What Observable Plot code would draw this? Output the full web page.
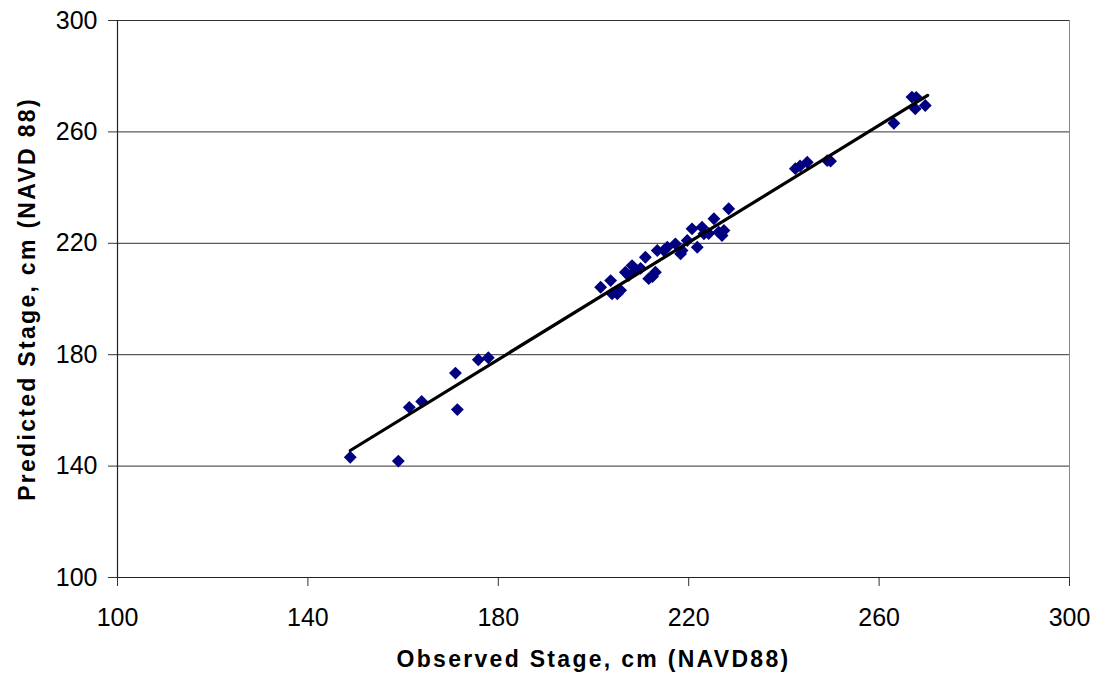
<!DOCTYPE html>
<html>
<head>
<meta charset="utf-8">
<script src="https://cdn.jsdelivr.net/npm/d3@7"></script>
<script src="https://cdn.jsdelivr.net/npm/@observablehq/plot@0.6"></script>
<style>
  html, body { margin: 0; padding: 0; background: #ffffff; }
</style>
</head>
<body>
<div id="chart"></div>
<script>
const observed = [
  148.9, 159.0, 161.3, 163.9, 171.0, 171.4, 175.8, 177.9,
  201.5, 203.6, 203.9, 205.0, 205.7, 206.7, 208.1, 208.8, 207.4, 209.9,
  210.9, 211.6, 212.4, 213.0, 213.4, 214.8, 215.5, 217.2, 218.6, 218.3,
  219.7, 220.7, 221.8, 222.8, 223.2, 224.2, 225.3, 226.3, 227.4, 227.0, 228.4,
  242.4, 243.4, 244.9, 249.1, 249.8, 263.1, 266.9, 267.8, 267.6, 269.7
];
const predicted = [
  143.2, 141.8, 161.1, 163.2, 173.4, 160.3, 178.2, 178.9,
  204.2, 206.6, 201.9, 201.9, 203.1, 209.6, 212.0, 210.2, 208.4, 211.0,
  215.0, 207.3, 208.1, 209.6, 217.4, 217.4, 218.6, 219.8, 217.4, 216.2,
  221.0, 225.2, 218.6, 225.8, 223.4, 223.5, 228.8, 224.0, 224.6, 222.8, 232.4,
  246.8, 247.8, 249.1, 249.7, 249.5, 263.1, 272.5, 272.4, 268.3, 269.5
];
const trendObserved = [148.9, 270.2];
const trendPredicted = [145.6, 273.1];
const xTicks = [100, 140, 180, 220, 260, 300];
const yTicks = [100, 140, 180, 220, 260, 300];
const gridValues = [140, 180, 220, 260, 300];
const xTitle = "Observed Stage, cm (NAVD88)";
const yTitle = "Predicted Stage, cm (NAVD 88)";

const points = observed.map((x, i) => ({x, y: predicted[i]}));
const trend = trendObserved.map((x, i) => ({x, y: trendPredicted[i]}));

const chart = Plot.plot({
  width: 1098,
  height: 679,
  marginLeft: 117,
  marginRight: 29,
  marginTop: 20,
  marginBottom: 102,
  style: {fontFamily: "'Liberation Sans', Arial, sans-serif", fontSize: "25px", background: "#ffffff", color: "#000"},
  x: {domain: [100, 300]},
  y: {domain: [100, 300]},
  marks: [
    Plot.ruleY(gridValues, {stroke: "#333", strokeWidth: 1}),
    Plot.ruleX([300], {stroke: "#888", strokeWidth: 1}),
    Plot.axisX({ticks: xTicks, tickSize: 9, tickPadding: 22, fontSize: 25, label: null, stroke: "#333"}),
    Plot.axisY({ticks: yTicks, tickSize: 9, tickPadding: 11, fontSize: 25, label: null, stroke: "#333"}),
    Plot.ruleX([100], {stroke: "#222", strokeWidth: 1.2}),
    Plot.ruleY([100], {stroke: "#222", strokeWidth: 1.2}),
    Plot.dot(points, {x: "x", y: "y", symbol: "diamond2", r: 5.8, fill: "#000080", stroke: "none"}),
    Plot.line(trend, {x: "x", y: "y", stroke: "#000", strokeWidth: 3.2}),
    Plot.text([xTitle], {frameAnchor: "bottom", dy: 82, lineAnchor: "middle", textAnchor: "middle", fontWeight: "bold", fontSize: 23, text: d => d}),
    Plot.text([yTitle], {frameAnchor: "left", dx: -90, rotate: -90, lineAnchor: "middle", textAnchor: "middle", fontWeight: "bold", fontSize: 23, text: d => d})
  ]
});

d3.select(chart).selectAll("text").each(function() {
  const t = this.textContent;
  if (t === xTitle || t === yTitle) {
    this.style.letterSpacing = "2.3px";
  }
});

document.getElementById("chart").appendChild(chart);
</script>
</body>
</html>
